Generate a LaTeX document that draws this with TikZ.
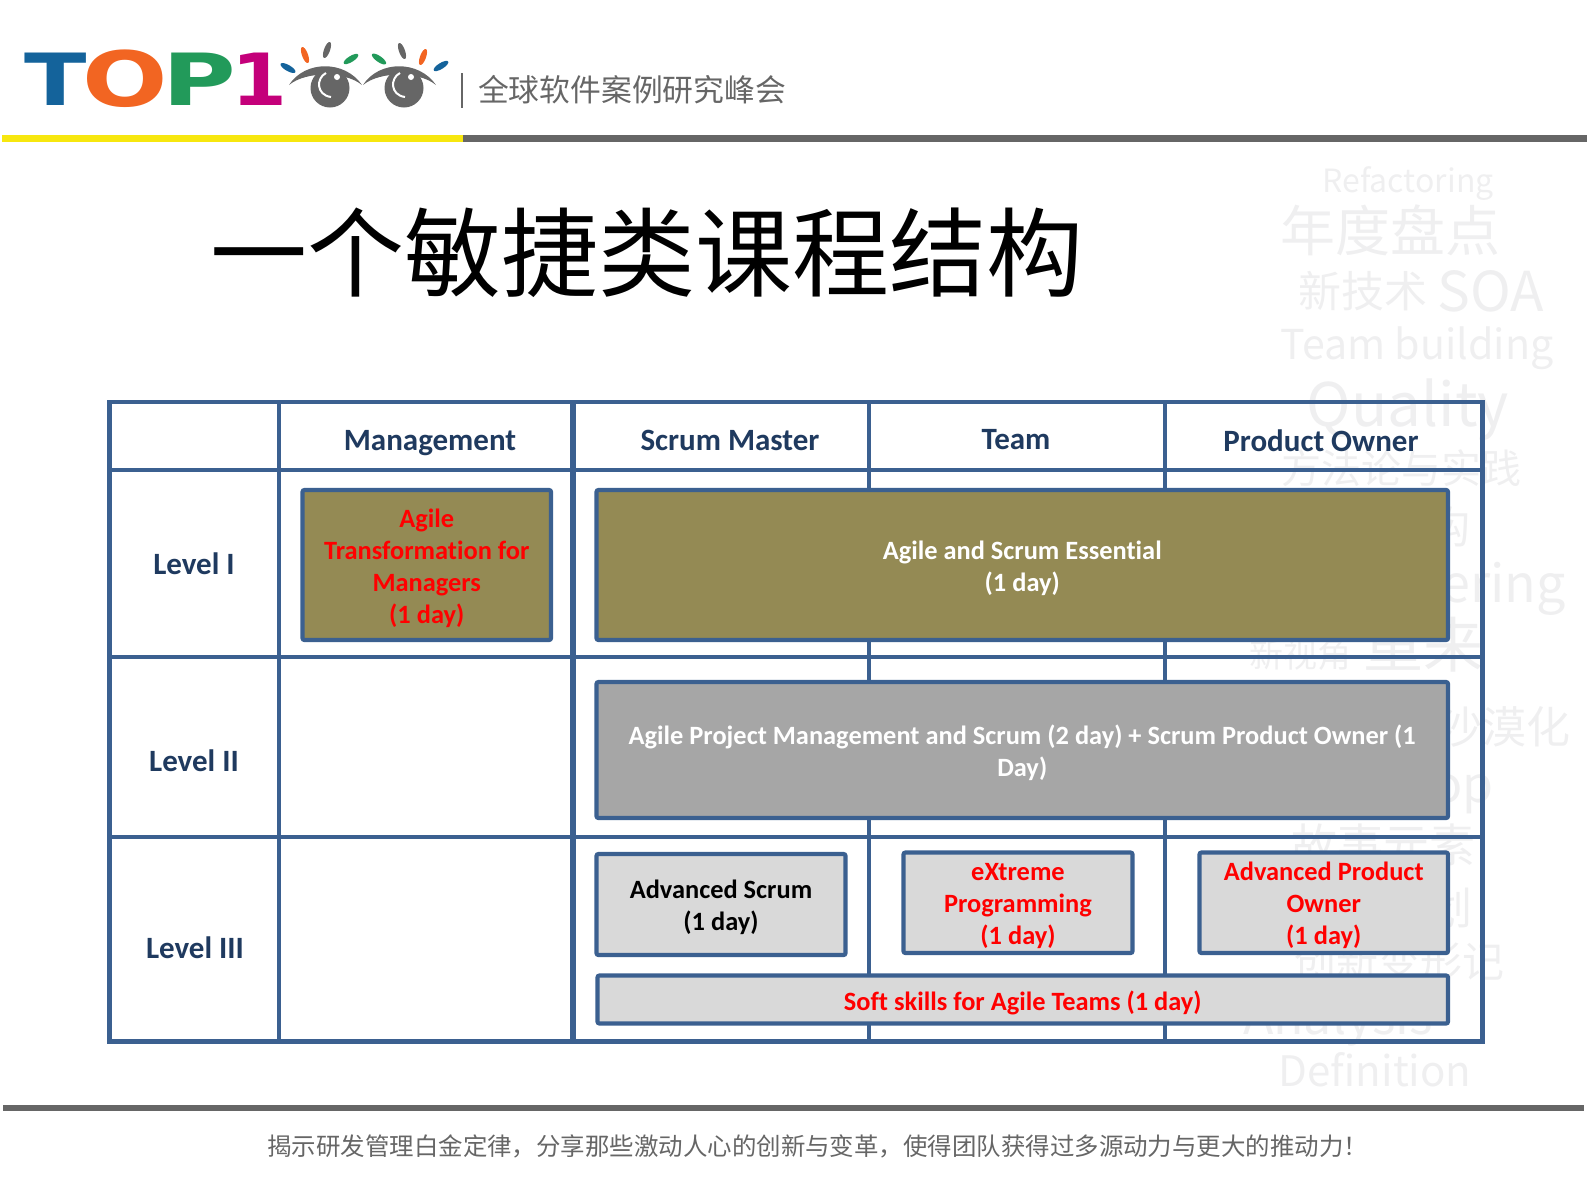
\documentclass[tikz,border=0pt]{standalone}
\usepackage{fontspec}
\setmainfont{Carlito}[Ligatures=NoCommon]
\newfontfamily\cjk{Noto Sans CJK SC}
\newfontfamily\logofont{DejaVu Sans}
\usetikzlibrary{fit}
\definecolor{gridblue}{HTML}{3B6090}
\definecolor{headnavy}{HTML}{1F3A5F}
\definecolor{olivebox}{HTML}{948A54}
\definecolor{greybox}{HTML}{A6A6A6}
\definecolor{lightbox}{HTML}{D9D9D9}
\definecolor{barred}{HTML}{FF0000}
\definecolor{baryellow}{HTML}{F7E70F}
\definecolor{bargrey}{HTML}{666666}
\definecolor{wmgrey}{HTML}{EFEFF0}
\definecolor{logoblue}{HTML}{14639B}
\definecolor{logoorange}{HTML}{F26522}
\definecolor{logogreen}{HTML}{229A5A}
\definecolor{logopink}{HTML}{C4007A}
\tikzset{gridline/.style={draw=gridblue, line width=2.1pt}}
\tikzset{cell/.style={rectangle, rounded corners=1pt, draw=gridblue, line width=2.1pt, inner sep=0pt}}
\tikzset{olive/.style={cell, fill=olivebox}}
\tikzset{dark/.style={cell, fill=greybox}}
\tikzset{light/.style={cell, fill=lightbox}}
\tikzset{boxtext/.style={align=center, inner sep=0pt, yshift=-1.5pt, font=\bfseries\fontsize{13.2}{16}\selectfont}}
\tikzset{head/.style={text=headnavy, font=\bfseries\fontsize{15.5}{18}\selectfont}}
\tikzset{wm/.style={text=wmgrey, inner sep=0pt}}
\tikzset{letter/.style={inner sep=0pt, xscale=1.27, transform shape, font=\logofont\bfseries\fontsize{36}{36}\selectfont}}
\begin{document}
\begin{tikzpicture}[x=0.5pt, y=-0.5pt]

    \useasboundingbox (0,0) rectangle (1587,1190);

    \node[wm, font=\cjk\fontsize{16}{16}\selectfont] (refact) at (1408,184) {Refactoring};
    \node[wm, font=\cjk\fontsize{27.5}{27.5}\selectfont] (yearly) at (1390,230) {年度盘点};
    \node[wm, font=\cjk\fontsize{21.5}{21.5}\selectfont] (newtech) at (1363,291) {新技术};
    \node[wm, font=\cjk\fontsize{27.5}{27.5}\selectfont] (soa) at (1491,291) {SOA};
    \node[wm, font=\cjk\fontsize{20.6}{20.6}\selectfont] (teamb) at (1417,348) {Team building};
    \node[wm, font=\cjk\fontsize{30}{30}\selectfont] (quality) at (1408,410) {Quality};
    \node[wm, font=\cjk\fontsize{20}{20}\selectfont] (method) at (1401,468) {方法论与实践};
    \node[wm, font=\cjk\fontsize{22}{22}\selectfont, anchor=east] (arch) at (1471,527) {构};
    \node[wm, font=\cjk\fontsize{26}{26}\selectfont, anchor=east] (ering) at (1566,589) {ering};
    \node[wm, font=\cjk\fontsize{17}{17}\selectfont] (newview) at (1300,655) {新视角};
    \node[wm, font=\cjk\fontsize{30}{30}\selectfont, anchor=east] (redo) at (1484,645) {重来};
    \node[wm, font=\cjk\fontsize{22}{22}\selectfont, anchor=east] (desert) at (1571,727) {沙漠化};
    \node[wm, font=\cjk\fontsize{25}{25}\selectfont, anchor=east] (shop) at (1494,794) {op};
    \node[wm, font=\cjk\fontsize{23}{23}\selectfont] (story) at (1383,845) {故事元素};
    \node[wm, font=\cjk\fontsize{22}{22}\selectfont, anchor=east] (plan) at (1473,908) {划};
    \node[wm, font=\cjk\fontsize{21}{21}\selectfont] (innov) at (1399,961) {创新变形记};
    \node[wm, font=\cjk\fontsize{25}{25}\selectfont] (analysis) at (1338,1020) {Analysis};
    \node[wm, font=\cjk\fontsize{21}{21}\selectfont] (defin) at (1375,1070) {Definition};

    \node[letter, text=logoblue] (logoT) at (56,79) {T};
    \node[letter, xscale=1.1, yscale=1.06, text=logoorange] (logoO) at (125,79) {O};
    \node[letter, xscale=1.1, text=logogreen] (logoP) at (199,79) {P};
    \node[letter, xscale=.88, text=logopink] (logoN) at (259,79) {1};

    \foreach \rx/\ry/\ra/\rc in {288/68/-30/logoblue, 305/55/-70/logoorange, 327/50/70/bargrey, 351/59/32/logogreen,
                                 379/59/-35/logogreen, 402/51/-70/bargrey, 423/57/70/logoorange, 441/66/32/logoblue}
      \fill[\rc, rotate around={\ra:(\rx,\ry)}] (\rx,\ry) ellipse (8.5 and 3);

    \foreach \ex in {0,74} {
      \begin{scope}[xshift=\ex*0.5pt]
        \fill[bargrey] (289,85) .. controls (305,60) and (345,60) .. (362,85) .. controls (345,71) and (306,71) .. (289,85);
        \fill[bargrey] (330,88) circle (19.5*0.5pt);
        \draw[white, line width=1pt] (326,73) .. controls (316,78) and (316,95) .. (331,97);
        \fill[white] (337,77) circle (1.5pt);
      \end{scope}
    }

    \node[inner sep=0pt, text=bargrey, font=\cjk\fontsize{15.4}{16}\selectfont] (tagline) at (632,90) {全球软件案例研究峰会};
    \draw[bargrey, line width=1.4pt] (462,73) -- (462,108);

    \fill[baryellow] (2,135) rectangle (463,142);
    \fill[bargrey] (463,135) rectangle (1587,142);

    \node[inner sep=0pt, font=\cjk\fontsize{48.5}{48.5}\selectfont] (title) at (647,253) {一个敏捷类课程结构};

    \draw[gridline] (109.5,402) rectangle (1482.5,1041.5);
    \foreach \y in {470,657,837}
      \draw[gridline] (109.5,\y) -- (1482.5,\y);
    \foreach \x in {279,869,1165}
      \draw[gridline] (\x,402) -- (\x,1041.5);
    \draw[gridline, line width=2.8pt] (573,402) -- (573,1041.5);

    \node[head] (management) at (430,443) {Management};
    \node[head] (scrummaster) at (730,440) {Scrum Master};
    \node[head] (team) at (1016,440) {Team};
    \node[head] (productowner) at (1321,441) {Product Owner};
    \node[head] (levelone) at (194,564) {Level I};
    \node[head] (leveltwo) at (194,761) {Level II};
    \node[head] (levelthree) at (195,948) {Level III};

    \node[olive, fit={(302.5,490)(551,640)}, label={[boxtext, text=barred, name=agilemgrtext]center:Agile\\Transformation for\\Managers\\(1 day)}] (agilemgr) {};
    \node[olive, fit={(596.5,490)(1448,640)}, label={[boxtext, text=white, name=essentialtext]center:Agile and Scrum Essential\\(1 day)}] (essential) {};
    \node[dark, fit={(596.5,682)(1448,818)}, label={[boxtext, text=white, name=projecttext]center:Agile Project Management and Scrum (2 day) + Scrum Product Owner (1\\Day)}] (projectmgmt) {};
    \node[light, fit={(596.5,854)(845.5,955)}, label={[boxtext, name=advscrumtext]center:Advanced Scrum\\(1 day)}] (advscrum) {};
    \node[light, fit={(903.5,852.5)(1132.5,953)}, label={[boxtext, text=barred, name=extremetext]center:eXtreme\\Programming\\(1 day)}] (extreme) {};
    \node[light, fit={(1199.5,852.5)(1448,953)}, label={[boxtext, text=barred, name=advownertext]center:Advanced Product\\Owner\\(1 day)}] (advowner) {};
    \node[light, fit={(597.5,975.5)(1448,1023.5)}, label={[boxtext, text=barred, name=softtext]center:Soft skills for Agile Teams (1 day)}] (softskills) {};

    \fill[bargrey] (3,1105) rectangle (1584,1111);
    \node[inner sep=0pt, anchor=west, text=bargrey, font=\cjk\fontsize{12.23}{12}\selectfont] (slogan) at (267,1146) {揭示研发管理白金定律，分享那些激动人心的创新与变革，使得团队获得过多源动力与更大的推动力！};

  \end{tikzpicture}
\end{document}
